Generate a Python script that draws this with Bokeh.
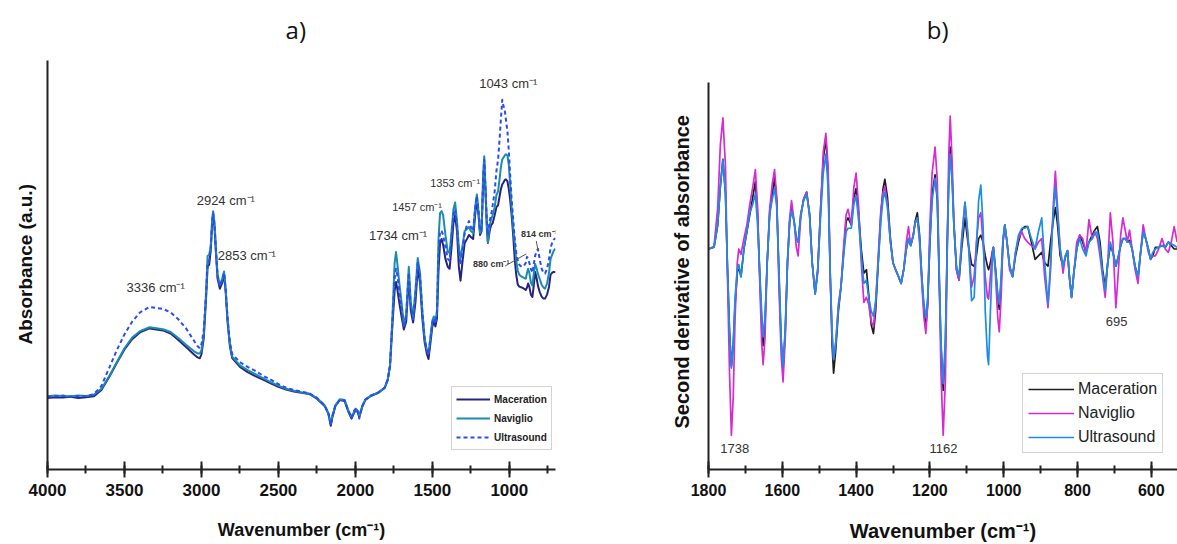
from bokeh.plotting import figure
from bokeh.models import Range1d, SingleIntervalTicker, FixedTicker, Legend, LegendItem, Label, Title
from bokeh.layouts import row
from bokeh.embed import file_html
from bokeh.resources import INLINE

# ---------------- Panel a) : FTIR absorbance spectra ----------------
wn_a = [4000, 3950, 3900, 3850, 3800, 3750, 3700, 3650, 3600, 3550,
        3500, 3450, 3400, 3336, 3250, 3200, 3150, 3100, 3050, 3025,
        3010, 3000, 2985, 2970, 2960, 2950, 2940, 2930, 2924, 2915,
        2905, 2895, 2880, 2865, 2853, 2843, 2830, 2815, 2800, 2750,
        2700, 2650, 2600, 2550, 2500, 2450, 2400, 2350, 2300, 2250,
        2200, 2175, 2160, 2150, 2130, 2100, 2070, 2045, 2025, 2005,
        1990, 1975, 1955, 1935, 1900, 1850, 1810, 1790, 1775, 1760,
        1745, 1736, 1728, 1715, 1700, 1685, 1670, 1653, 1640, 1625,
        1610, 1595, 1580, 1565, 1550, 1535, 1525, 1512, 1500, 1490,
        1480, 1470, 1460, 1450, 1440, 1430, 1415, 1400, 1388, 1375,
        1363, 1352, 1340, 1328, 1317, 1305, 1290, 1275, 1262, 1250,
        1235, 1222, 1211, 1200, 1190, 1180, 1170, 1163, 1155, 1145,
        1139, 1128, 1118, 1108, 1095, 1084, 1073, 1062, 1055, 1046,
        1038, 1030, 1022, 1012, 1003, 995, 985, 975, 965, 955,
        945, 935, 920, 905, 893, 885, 878, 870, 860, 850,
        842, 832, 822, 814, 803, 790, 778, 768, 755, 742,
        732, 722, 712, 700]

maceration_a = [.180, .182, .181, .183, .180, .182, .184, .200, .232, .268,
                .302, .328, .345, .355, .350, .342, .326, .308, .290, .282,
                .280, .290, .330, .430, .511, .515, .550, .620, .640, .610,
                .540, .480, .455, .470, .490, .450, .370, .310, .280, .258,
                .245, .235, .226, .217, .208, .201, .196, .193, .190, .178,
                .160, .140, .110, .130, .160, .175, .172, .145, .128, .145,
                .150, .132, .158, .175, .185, .193, .205, .225, .260, .360,
                .450, .472, .455, .420, .385, .352, .372, .480, .400, .370,
                .420, .505, .470, .380, .320, .290, .278, .320, .360, .372,
                .360, .380, .500, .570, .580, .565, .530, .510, .505, .560,
                .620, .640, .600, .510, .475, .520, .570, .580, .590, .585,
                .580, .640, .680, .640, .590, .600, .720, .775, .700, .600,
                .570, .600, .615, .620, .640, .660, .665, .690, .705, .717,
                .722, .728, .730, .725, .705, .680, .640, .590, .530, .490,
                .465, .460, .458, .455, .452, .458, .468, .460, .440, .434,
                .460, .497, .480, .462, .447, .435, .430, .430, .440, .460,
                .490, .495, .497, .497]

naviglio_a = [.184, .186, .185, .184, .186, .185, .188, .203, .234, .270,
              .305, .332, .348, .358, .353, .346, .331, .314, .298, .292,
              .292, .300, .340, .445, .537, .540, .560, .630, .650, .620,
              .550, .490, .465, .480, .498, .455, .375, .315, .284, .262,
              .250, .240, .230, .220, .211, .203, .198, .194, .191, .180,
              .162, .142, .115, .135, .162, .177, .175, .148, .132, .148,
              .150, .136, .160, .176, .186, .194, .206, .226, .262, .380,
              .520, .547, .520, .470, .420, .362, .392, .510, .420, .385,
              .450, .532, .495, .400, .330, .300, .292, .335, .375, .385,
              .372, .400, .580, .645, .650, .640, .590, .548, .545, .600,
              .655, .672, .625, .560, .530, .560, .600, .605, .610, .600,
              .595, .660, .692, .650, .595, .605, .740, .788, .710, .610,
              .572, .612, .630, .640, .660, .690, .700, .735, .760, .780,
              .785, .790, .793, .790, .765, .720, .660, .610, .570, .525,
              .500, .490, .485, .482, .480, .495, .505, .495, .470, .463,
              .490, .517, .505, .492, .480, .465, .458, .455, .468, .495,
              .530, .540, .550, .556]

ultrasound_a = [.183, .184, .186, .183, .184, .185, .189, .210, .255, .300,
                .340, .372, .395, .409, .404, .395, .378, .355, .325, .310,
                .305, .315, .350, .440, .520, .525, .555, .625, .645, .615,
                .545, .485, .460, .475, .495, .455, .380, .320, .290, .270,
                .258, .248, .236, .226, .215, .206, .200, .196, .192, .180,
                .162, .140, .112, .132, .160, .176, .174, .146, .130, .150,
                .155, .128, .160, .176, .186, .194, .206, .226, .262, .370,
                .480, .505, .490, .450, .405, .358, .385, .495, .410, .378,
                .440, .520, .485, .395, .328, .298, .290, .330, .370, .380,
                .368, .395, .540, .600, .600, .590, .560, .530, .525, .585,
                .640, .655, .615, .545, .515, .550, .595, .615, .625, .610,
                .600, .655, .688, .650, .600, .610, .730, .780, .705, .615,
                .590, .625, .640, .665, .700, .750, .780, .838, .880, .930,
                .915, .905, .880, .850, .800, .745, .680, .630, .580, .545,
                .525, .515, .510, .512, .520, .535, .530, .520, .505, .495,
                .515, .538, .550, .555, .530, .505, .495, .493, .505, .530,
                .558, .570, .578, .582]

# ---------------- Panel b) : second derivative ----------------
wn_b = [1800, 1785, 1775, 1768, 1761, 1754, 1749, 1743, 1738, 1733,
        1728, 1722, 1718, 1712, 1704, 1696, 1688, 1680, 1673, 1667,
        1661, 1656, 1652, 1647, 1641, 1634, 1627, 1621, 1615, 1609,
        1603, 1598, 1592, 1586, 1580, 1575, 1568, 1562, 1557, 1550,
        1542, 1534, 1526, 1519, 1511, 1504, 1496, 1489, 1482, 1476,
        1470, 1465, 1461, 1455, 1448, 1441, 1433, 1427, 1422, 1413,
        1406, 1400, 1393, 1386, 1379, 1372, 1366, 1359, 1353, 1347,
        1340, 1333, 1327, 1322, 1315, 1307, 1300, 1293, 1285, 1278,
        1271, 1264, 1258, 1252, 1245, 1240, 1234, 1228, 1222, 1216,
        1211, 1206, 1200, 1194, 1186, 1180, 1175, 1170, 1164, 1158,
        1153, 1149, 1145, 1140, 1135, 1128, 1121, 1114, 1105, 1097,
        1087, 1080, 1074, 1068, 1062, 1056, 1050, 1044, 1041, 1036,
        1031, 1028, 1022, 1016, 1012, 1007, 1002, 997, 991, 984,
        976, 968, 960, 951, 943, 935, 925, 915, 906, 897,
        889, 880, 873, 866, 860, 854, 847, 839, 833, 827,
        822, 816, 810, 802, 794, 786, 777, 769, 760, 753,
        746, 739, 732, 725, 718, 711, 704, 696, 689, 683,
        677, 670, 665, 659, 652, 644, 636, 629, 622, 615,
        608, 602, 596, 589, 580, 571, 562, 554, 546, 538,
        530]

maceration_b = [0, .05, .70, 1.80, 2.60, 1.60, -.40, -2.40, -3.40, -2.80,
                -1.60, -.70, -.50, -.80, 0, .50, 1.00, 1.50, 1.95, 1.00,
                -.80, -2.10, -2.80, -2.20, -.40, 1.10, 1.60, 2.05, 1.40, -.80,
                -2.70, -3.50, -2.40, -.40, .80, 1.20, .80, .30, .20, 1.00,
                1.45, 1.65, 1.00, -.40, -1.30, -.60, 1.20, 2.60, 3.20, 2.20,
                -.80, -2.80, -3.60, -2.90, -1.80, -1.10, 0, .80, .90, .70,
                1.50, 1.75, 1.00, 0, -.70, -.60, -1.30, -2.20, -2.45, -1.80,
                -.40, 1.00, 1.75, 2.02, 1.50, .30, -.40, -.60, -.80, -1.00,
                -.60, 0, .30, .10, .40, .80, 1.05, .40, -.80, -1.80,
                -2.25, -1.60, .20, 1.60, 2.15, 1.40, -.80, -2.80, -4.10, -2.80,
                .20, 2.00, 2.95, 2.20, .70, -.60, -.90, 0, .90, .20,
                -.45, -.50, -.20, .30, .40, .20, -.20, -.50, -.60, -.40,
                -.10, .05, -.60, -1.40, -1.75, -1.00, .20, .70, .20, -.50,
                -.80, -.20, .20, .55, .65, .65, .20, -.30, -.20, -.10,
                -.40, -.50, .20, .80, 1.20, .70, -.20, -.50, -.25, -.05,
                -.80, -1.40, -.70, 0, .40, .20, -.10, .20, .40, .55,
                .65, .20, -.60, -1.10, -.40, .10, -.10, -.50, -.20, .10,
                .30, .30, .20, .25, 0, -.50, -.80, -.10, .50, .30,
                0, -.30, -.20, .05, .05, .10, .05, .20, .10, 0,
                0]

naviglio_b = [0, .08, 1.20, 3.00, 3.80, 2.40, -.60, -3.60, -5.40, -4.30,
              -2.00, -.40, 0, -.15, .30, .70, 1.30, 1.80, 2.30, 1.20,
              -1.00, -2.70, -3.35, -2.60, -.40, 1.20, 1.90, 2.30, 1.50, -1.10,
              -3.10, -3.85, -2.60, -.40, .90, 1.40, .80, .05, -.20, .90,
              1.45, 1.65, 1.00, -.40, -1.30, -.60, 1.20, 2.80, 3.35, 2.40,
              -.80, -2.50, -3.20, -2.70, -1.60, -1.10, .20, 1.00, 1.15, .70,
              1.80, 2.20, 1.20, -.40, -1.55, -1.40, -1.60, -2.10, -2.25, -1.60,
              -.20, 1.10, 1.65, 1.80, 1.30, .20, -.40, -.60, -.80, -1.00,
              -.60, .20, .65, .10, .40, .75, .90, .20, -1.00, -2.00,
              -2.45, -1.60, .70, 2.20, 2.95, 2.00, -.60, -3.60, -5.40, -3.80,
              0, 2.70, 3.85, 2.60, .80, -.60, -.90, .30, 1.35, .40,
              -1.10, -.80, .20, .90, 1.05, .20, -.80, -1.40, -1.45, -.80,
              -.10, .05, -.80, -2.00, -2.40, -1.40, .20, .70, .20, -.60,
              -.80, -.10, .30, .50, .30, .20, .10, 0, .20, .30,
              -.80, -1.70, -.60, 1.20, 2.25, 1.20, 0, -.70, -.20, -.05,
              -.80, -1.40, -.70, .20, .40, .30, -.10, .85, .30, .50,
              .30, -.20, -.80, -1.40, -.40, 1.05, .20, -1.70, -.60, .40,
              .90, .50, .20, .55, 0, -.60, -1.00, -.10, .70, .30,
              -.10, -.25, -.20, -.20, 0, .30, 0, -.10, .20, .65,
              .20]

ultrasound_b = [0, .05, .70, 1.80, 2.60, 1.60, -.40, -2.40, -3.45, -2.80,
                -1.40, -.60, -.45, -.80, 0, .50, 1.05, 1.30, 1.60, .70,
                -.70, -1.80, -2.55, -2.00, -.40, 1.00, 1.45, 1.75, 1.20, -.60,
                -2.60, -3.40, -2.30, -.40, .80, 1.10, .80, .30, .20, 1.00,
                1.40, 1.60, .95, -.40, -1.30, -.70, 1.00, 2.20, 2.75, 1.80,
                -.80, -2.40, -3.20, -2.70, -1.70, -1.10, -.10, .50, .60, .60,
                1.30, 1.55, .80, -.20, -1.00, -.90, -1.40, -1.80, -1.95, -1.50,
                -.40, .80, 1.45, 1.65, 1.20, .20, -.40, -.60, -.80, -1.00,
                -.60, 0, .30, .10, .40, .75, .90, .30, -.80, -1.60,
                -2.00, -1.40, .20, 1.40, 2.05, 1.50, -.60, -2.70, -3.90, -2.60,
                0, 1.80, 2.75, 2.00, .70, -.50, -.80, .20, 1.35, .40,
                -1.50, -1.40, 0, 1.40, 1.85, .70, -1.80, -3.10, -3.35, -1.80,
                -.40, .05, -.60, -1.30, -1.60, -.80, .30, .70, .20, -.50,
                -.80, -.10, .40, .60, .60, .65, .30, 0, .50, .90,
                -.40, -1.60, -.40, 1.00, 1.80, 1.00, 0, -.50, -.20, -.05,
                -.80, -1.40, -.70, 0, .30, 0, -.20, .20, .30, .45,
                .50, 0, -.70, -1.20, -.40, .20, -.10, -.50, -.20, .10,
                .30, .30, .20, .20, 0, -.50, -.80, -.10, .50, .30,
                0, -.30, -.10, 0, .05, .10, .05, .20, .15, .10,
                .05]

series_names = ["Maceration", "Naviglio", "Ultrasound"]

# annotations: (text, wavenumber, value, font size)
peaks_a = [("3336 cm⁻¹", 3297, 0.458, "13px"), ("2924 cm⁻¹", 2842, 0.678, "13px"),
           ("2853 cm⁻¹", 2705, 0.538, "13px"), ("1734 cm⁻¹", 1723, 0.590, "13px"),
           ("1457 cm⁻¹", 1599, 0.660, "11px"), ("1353 cm⁻¹", 1352, 0.720, "11px"),
           ("1043 cm⁻¹", 1007, 0.970, "13px")]
small_a = [("880 cm⁻¹", 1118, 0.5175), ("814 cm⁻¹", 805, 0.5925)]
leaders_a = [(1027, 0.512, 890, 0.5425), (825, 0.575, 812, 0.548)]
peaks_b = [("1738", 1729, -5.79), ("1162", 1163, -5.79), ("695", 694, -2.10)]
# panel titles (placed above each axis, inside the canvas)
title_a = ("a)", 2387, 1.1075)
title_b = ("b)", 1179, 6.365)

assert len(wn_a) == len(maceration_a) == len(naviglio_a) == len(ultrasound_a)
assert len(wn_b) == len(maceration_b) == len(naviglio_b) == len(ultrasound_b)

SANS = "Liberation Sans"
AXC = "#222222"


def style_axes(p, xtick_size, xlabel_size, xlabel_standoff, ylabel, ylabel_size,
               ylabel_offset, ylabel_standoff, ylabel_valign, ybounds):
    p.xgrid.visible = False
    p.ygrid.visible = False
    p.outline_line_color = None
    p.background_fill_color = "white"
    p.border_fill_color = "white"
    xa = p.xaxis[0]
    xa.axis_line_width = 2
    xa.axis_line_color = AXC
    xa.major_tick_line_width = 2
    xa.major_tick_line_color = AXC
    xa.minor_tick_line_width = 2
    xa.minor_tick_line_color = AXC
    xa.major_tick_in = 8
    xa.major_tick_out = 8
    xa.minor_tick_in = 4
    xa.minor_tick_out = 4
    xa.major_label_standoff = 6
    xa.major_label_text_font = SANS
    xa.major_label_text_font_style = "bold"
    xa.major_label_text_font_size = xtick_size
    xa.major_label_text_color = "#111111"
    xa.axis_label = "Wavenumber (cm⁻¹)"
    xa.axis_label_text_font = SANS
    xa.axis_label_text_font_style = "bold"
    xa.axis_label_text_font_size = xlabel_size
    xa.axis_label_text_color = "#111111"
    xa.axis_label_standoff = xlabel_standoff
    ya = p.yaxis[0]
    ya.ticker = FixedTicker(ticks=[])
    ya.bounds = ybounds
    ya.axis_line_width = 2
    ya.axis_line_color = AXC
    ya.major_tick_line_color = None
    ya.minor_tick_line_color = None
    ya.major_label_text_font_size = "0px"
    # y-axis title: a side-panel title so it can be centred on the drawn axis segment
    p.add_layout(Title(text=ylabel, align="left", offset=ylabel_offset,
                       vertical_align=ylabel_valign, standoff=ylabel_standoff,
                       text_font=SANS, text_font_style="bold",
                       text_font_size=ylabel_size, text_color="#111111"), "left")


def add_title(p, spec):
    t, x, y = spec
    p.add_layout(Label(x=x, y=y, text=t, text_align="center", text_baseline="middle",
                       text_font="Open Sans", text_font_size="24px", text_color="#111111"))


# ---------- figure a ----------
pa = figure(width=600, height=544, x_range=Range1d(4000, 700), y_range=Range1d(0, 1.18),
            output_backend="svg", toolbar_location=None,
            min_border_left=47, min_border_right=45, min_border_top=0, min_border_bottom=72)
pa.xaxis[0].ticker = SingleIntervalTicker(interval=500, num_minor_ticks=2)
style_axes(pa, "17px", "18px", 21, "Absorbance (a.u.)", "19px", 125, 22, "middle", (0, 1.03))
add_title(pa, title_a)

cols_a = ["#25257f", "#1b8cae", "#2a4cf5"]
dash_a = ["solid", "solid", "4 3"]
ys_a = [maceration_a, naviglio_a, ultrasound_a]
rend_a = []
for name, ys, c, d in zip(series_names, ys_a, cols_a, dash_a):
    r = pa.line(wn_a, ys, line_color=c, line_width=2, line_dash=d, line_join="round")
    rend_a.append(r)

for t, x, y, fs in peaks_a:
    pa.add_layout(Label(x=x, y=y, text=t, text_align="center", text_baseline="middle",
                        text_font=SANS, text_font_size=fs, text_color="#333333"))
for t, x, y in small_a:
    pa.add_layout(Label(x=x, y=y, text=t, text_align="center", text_baseline="middle",
                        text_font=SANS, text_font_size="9px", text_font_style="bold",
                        text_color="#333333"))
pa.segment(x0=[s[0] for s in leaders_a], y0=[s[1] for s in leaders_a],
           x1=[s[2] for s in leaders_a], y1=[s[3] for s in leaders_a],
           line_color="#555555", line_width=1)

leg_a = Legend(items=[LegendItem(label=n, renderers=[r]) for n, r in zip(series_names, rend_a)],
               location=(404, 19), orientation="vertical")
leg_a.label_text_font = SANS
leg_a.label_text_font_style = "bold"
leg_a.label_text_font_size = "10px"
leg_a.label_text_color = "#222222"
leg_a.label_height = 16
leg_a.glyph_height = 16
leg_a.glyph_width = 34
leg_a.label_standoff = 4
leg_a.spacing = 3
leg_a.padding = 4
leg_a.margin = 0
leg_a.border_line_color = "#a8a8a8"
leg_a.border_line_width = 1
leg_a.background_fill_color = "white"
leg_a.background_fill_alpha = 1
pa.add_layout(leg_a)

# ---------- figure b ----------
pb = figure(width=577, height=544, x_range=Range1d(1800, 529), y_range=Range1d(-6.39, 7.20),
            output_backend="svg", toolbar_location=None,
            min_border_left=108, min_border_right=0, min_border_top=0, min_border_bottom=72)
pb.xaxis[0].ticker = SingleIntervalTicker(interval=200, num_minor_ticks=2)
style_axes(pb, "16px", "20px", 21, "Second derivative of absorbance", "20px", 41, 32, "bottom",
           (-6.39, 4.81))
add_title(pb, title_b)

cols_b = ["#1e1e1e", "#d42bd4", "#1a8ee6"]
ys_b = [maceration_b, naviglio_b, ultrasound_b]
rend_b = []
for name, ys, c in zip(series_names, ys_b, cols_b):
    r = pb.line(wn_b, ys, line_color=c, line_width=1.7, line_join="round")
    rend_b.append(r)

for t, x, y in peaks_b:
    pb.add_layout(Label(x=x, y=y, text=t, text_align="center", text_baseline="middle",
                        text_font=SANS, text_font_size="13px", text_color="#333333"))

leg_b = Legend(items=[LegendItem(label=n, renderers=[r]) for n, r in zip(series_names, rend_b)],
               location=(314, 16), orientation="vertical")
leg_b.label_text_font = SANS
leg_b.label_text_font_size = "16px"
leg_b.label_text_color = "#222222"
leg_b.label_height = 20
leg_b.glyph_height = 20
leg_b.glyph_width = 46
leg_b.label_standoff = 4
leg_b.spacing = 4
leg_b.padding = 5
leg_b.margin = 0
leg_b.border_line_color = "#a8a8a8"
leg_b.border_line_width = 1
leg_b.background_fill_color = "white"
leg_b.background_fill_alpha = 1
pb.add_layout(leg_b)

layout = row(pa, pb)
open("out.html", "w").write(file_html(layout, INLINE))
